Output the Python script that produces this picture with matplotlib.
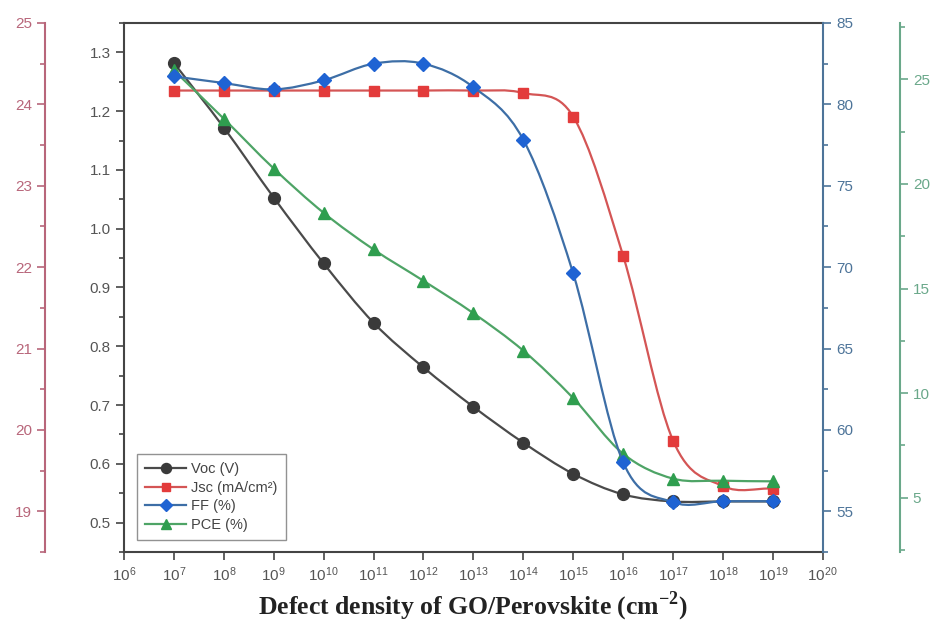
import numpy as np
import matplotlib
matplotlib.use("Agg")
import matplotlib.pyplot as plt
from matplotlib.path import Path
from matplotlib.patches import PathPatch
from matplotlib.ticker import AutoMinorLocator, NullLocator, LogFormatterSciNotation, FormatStrFormatter
from matplotlib.lines import Line2D

plt.rcParams['font.family'] = ['Liberation Sans', 'DejaVu Sans']
plt.rcParams['mathtext.fontset'] = 'custom'
plt.rcParams['mathtext.rm'] = 'Liberation Sans'
plt.rcParams['mathtext.bf'] = 'Liberation Serif:bold'

# data
defect_density = [1e7, 1e8, 1e9, 1e10, 1e11, 1e12, 1e13, 1e14, 1e15, 1e16, 1e17, 1e18, 1e19]
voc = [1.282, 1.172, 1.053, 0.941, 0.840, 0.764, 0.697, 0.636, 0.583, 0.548, 0.536, 0.536, 0.536]
jsc = [24.17, 24.17, 24.17, 24.17, 24.17, 24.17, 24.17, 24.14, 23.85, 22.14, 19.87, 19.31, 19.28]
ff = [81.72, 81.31, 80.92, 81.48, 82.50, 82.50, 81.06, 77.83, 69.61, 58.02, 55.56, 55.62, 55.62]
pce = [25.43, 23.12, 20.74, 18.62, 16.87, 15.37, 13.82, 12.03, 9.76, 7.10, 5.91, 5.81, 5.78]

labels = ['Voc (V)', 'Jsc (mA/cm²)', 'FF (%)', 'PCE (%)']


def spline_patch(x, y, color):
    # smooth connecting line as bezier segments (catmull-rom tangents in log-x)
    lx = np.log10(np.asarray(x, float))
    y = np.asarray(y, float)
    n = len(lx)
    m = np.zeros(n)
    m[0] = (y[1] - y[0]) / (lx[1] - lx[0])
    m[-1] = (y[-1] - y[-2]) / (lx[-1] - lx[-2])
    m[1:-1] = (y[2:] - y[:-2]) / (lx[2:] - lx[:-2])
    verts = [(x[0], y[0])]
    codes = [Path.MOVETO]
    for i in range(n - 1):
        h = lx[i + 1] - lx[i]
        verts += [(10 ** (lx[i] + h / 3), y[i] + m[i] * h / 3),
                  (10 ** (lx[i + 1] - h / 3), y[i + 1] - m[i + 1] * h / 3),
                  (x[i + 1], y[i + 1])]
        codes += [Path.CURVE4] * 3
    return PathPatch(Path(verts, codes), fill=False, edgecolor=color, lw=1.6)


fig = plt.figure(figsize=(9.36, 6.28), dpi=100)
ax = fig.add_axes([0.1325, 0.121, 0.7465, 0.8424])
ax_j = ax.twinx()
ax_p = ax.twinx()
ax_f = ax.twinx()

c_voc, c_voc_l, c_voc_ax = '#3a3a3a', '#4a4a4a', '#555555'
c_jsc, c_jsc_l, c_jsc_ax = '#e33b3b', '#d45555', '#b8667a'
c_ff, c_ff_l, c_ff_ax = '#1f63d3', '#3d6ea6', '#4d7499'
c_pce, c_pce_l, c_pce_ax = '#2f9e4f', '#4ea466', '#6aa88a'

series = [(ax, voc, 'o', c_voc, c_voc_l, 8.5),
          (ax_j, jsc, 's', c_jsc, c_jsc_l, 7.5),
          (ax_p, pce, '^', c_pce, c_pce_l, 8.5),
          (ax_f, ff, 'D', c_ff, c_ff_l, 7.5)]
handles = {}
for a, vals, mk, mc, lc, ms in series:
    a.add_patch(spline_patch(defect_density, vals, lc))
    a.plot(defect_density, vals, linestyle='none', marker=mk, ms=ms, color=mc, mec=mc)
    handles[mk] = Line2D([], [], color=lc, lw=1.6, marker=mk, ms=ms * 0.85, mfc=mc, mec=mc)

# x axis
ax.set_xscale('log')
ax.set_xlim(1e6, 1e20)
ax.set_xticks([10.0 ** k for k in range(6, 21)])
ax.xaxis.set_minor_locator(NullLocator())
ax.xaxis.set_major_formatter(LogFormatterSciNotation())
ax.set_xlabel(r'Defect density of GO/Perovskite (cm$^{\mathbf{-2}}$)', family='Liberation Serif',
              fontweight='bold', fontsize=18.5, color='#222222', labelpad=4)

# Voc axis
ax.set_ylim(0.45, 1.35)
ax.set_yticks(np.arange(0.5, 1.31, 0.1))
ax.yaxis.set_major_formatter(FormatStrFormatter('%.1f'))
ax.yaxis.set_minor_locator(AutoMinorLocator(2))
ax.spines['right'].set_visible(False)
for s in ['left', 'bottom', 'top']:
    ax.spines[s].set_color('#444444')
    ax.spines[s].set_linewidth(1.5)
ax.tick_params(axis='both', which='both', direction='out', colors='#444444',
               labelcolor=c_voc_ax, labelsize=11, width=1.2)
ax.tick_params(which='major', length=6)
ax.tick_params(which='minor', length=3.5)
ax.tick_params(axis='x', top=False)

# Jsc axis (outer left)
ax_j.set_ylim(18.5, 25)
ax_j.set_yticks(range(19, 26))
ax_j.yaxis.set_minor_locator(AutoMinorLocator(2))
ax_j.spines['left'].set_position(('axes', -0.113))
ax_j.spines['left'].set_visible(True)
ax_j.yaxis.set_ticks_position('left')
ax_j.yaxis.set_label_position('left')
for s in ['right', 'top', 'bottom']:
    ax_j.spines[s].set_visible(False)
ax_j.spines['left'].set_color(c_jsc_ax)
ax_j.spines['left'].set_linewidth(1.5)

# FF axis (right)
ax_f.set_ylim(52.5, 85)
ax_f.set_yticks(range(55, 86, 5))
ax_f.yaxis.set_minor_locator(AutoMinorLocator(2))
for s in ['left', 'top', 'bottom']:
    ax_f.spines[s].set_visible(False)
ax_f.spines['right'].set_color(c_ff_ax)
ax_f.spines['right'].set_linewidth(1.5)

# PCE axis (outer right)
ax_p.set_ylim(2.4, 27.7)
ax_p.set_yticks(range(5, 26, 5))
ax_p.yaxis.set_minor_locator(AutoMinorLocator(2))
ax_p.spines['right'].set_position(('axes', 1.11))
for s in ['left', 'top', 'bottom']:
    ax_p.spines[s].set_visible(False)
ax_p.spines['right'].set_color(c_pce_ax)
ax_p.spines['right'].set_linewidth(1.5)

for a, col in [(ax_j, c_jsc_ax), (ax_f, c_ff_ax), (ax_p, c_pce_ax)]:
    a.tick_params(axis='y', which='both', direction='out', colors=col, labelsize=11, width=1.2)
    a.tick_params(axis='y', which='major', length=6)
    a.tick_params(axis='y', which='minor', length=3.5)

leg = ax_f.legend([handles['o'], handles['s'], handles['D'], handles['^']], labels,
                  loc='lower left', bbox_to_anchor=(0.018, 0.022), fontsize=10.5,
                  frameon=True, fancybox=False, edgecolor='#777777', labelcolor='#444444',
                  handlelength=2.8, handletextpad=0.3, labelspacing=0.3, borderpad=0.6,
                  borderaxespad=0)
leg.get_frame().set_linewidth(1.0)

fig.savefig('out.png', dpi=100, facecolor='white')
